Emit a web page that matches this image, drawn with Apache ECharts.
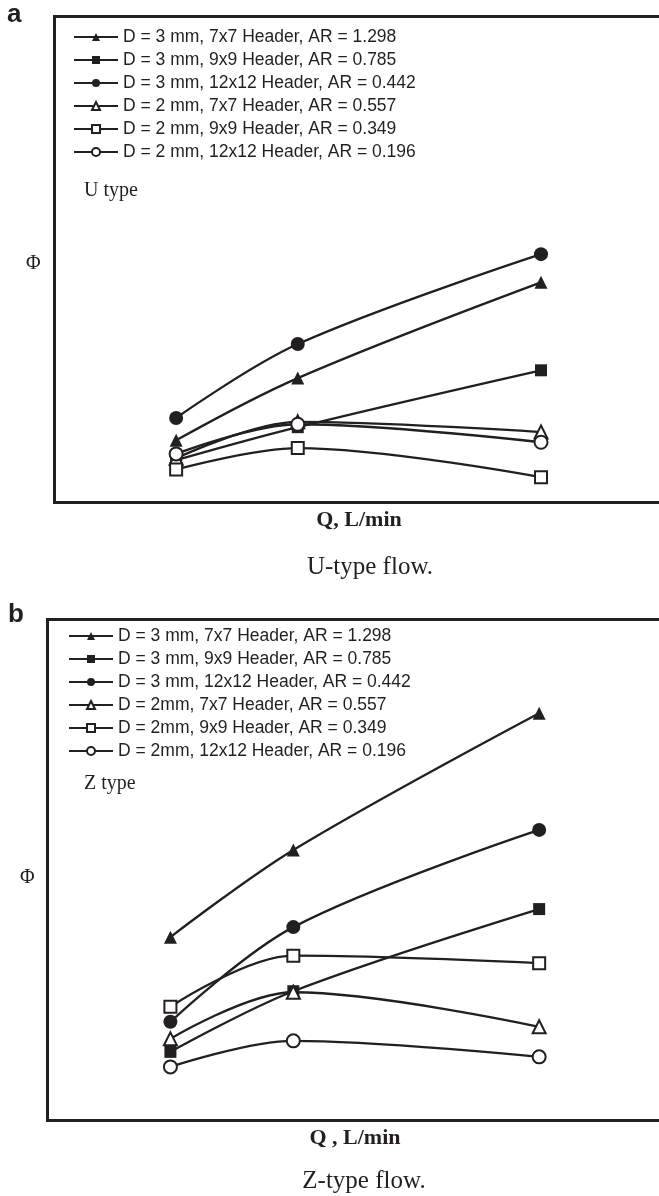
<!DOCTYPE html>
<html><head><meta charset="utf-8">
<script src="https://cdn.jsdelivr.net/npm/echarts@6/dist/echarts.min.js"></script>
<style>html,body{margin:0;padding:0;background:#fff}#c{width:659px;height:1196px}</style>
</head><body><div id="c"></div><script>
// Flow rate Q (L/min) — relative positions on the horizontal axis
const flowRate = [1, 2, 4];

// Panel a: U-type flow
const namesU = [
  'D = 3 mm, 7x7 Header, AR = 1.298',
  'D = 3 mm, 9x9 Header, AR = 0.785',
  'D = 3 mm, 12x12 Header, AR = 0.442',
  'D = 2 mm, 7x7 Header, AR = 0.557',
  'D = 2 mm, 9x9 Header, AR = 0.349',
  'D = 2 mm, 12x12 Header, AR = 0.196'
];
const uD3h7  = [12.8, 25.6, 45.3];
const uD3h9  = [8.7, 15.5, 27.2];
const uD3h12 = [17.4, 32.6, 51.1];
const uD2h7  = [9.1, 16.6, 14.5];
const uD2h9  = [6.8, 11.2, 5.2];
const uD2h12 = [10.0, 16.1, 12.4];

// Panel b: Z-type flow
const namesZ = [
  'D = 3 mm, 7x7 Header, AR = 1.298',
  'D = 3 mm, 9x9 Header, AR = 0.785',
  'D = 3 mm, 12x12 Header, AR = 0.442',
  'D = 2mm, 7x7 Header, AR = 0.557',
  'D = 2mm, 9x9 Header, AR = 0.349',
  'D = 2mm, 12x12 Header, AR = 0.196'
];
const zD3h7  = [36.6, 54.0, 81.3];
const zD3h9  = [13.7, 25.8, 42.2];
const zD3h12 = [19.7, 38.6, 58.0];
const zD2h7  = [16.3, 25.6, 18.7];
const zD2h9  = [22.7, 32.9, 31.4];
const zD2h12 = [10.7, 15.9, 12.7];

const symbols = ['triangle', 'rect', 'circle', 'emptyTriangle', 'emptyRect', 'emptyCircle'];
const symbolSizes = [13, 12, 14, 13, 12, 13];

const INK = '#231f20';
const uSets = [uD3h7, uD3h9, uD3h12, uD2h7, uD2h9, uD2h12];
const zSets = [zD3h7, zD3h9, zD3h12, zD2h7, zD2h9, zD2h12];

function mk(name, vals, k, axis) {
  return {
    type: 'line', name: name, xAxisIndex: axis, yAxisIndex: axis,
    data: flowRate.map((q, i) => [q, vals[i]]),
    smooth: 0.35,
    symbol: symbols[k], symbolSize: symbolSizes[k],
    lineStyle: { color: INK, width: 2.3 },
    itemStyle: { color: INK, borderWidth: 1.8 },
    emphasis: { disabled: true },
    animation: false
  };
}
const series = [];
uSets.forEach((v, k) => series.push(mk(namesU[k], v, k, 0)));
zSets.forEach((v, k) => series.push(mk(namesZ[k], v, k, 1)));

const legendText = { fontFamily: 'Liberation Sans', fontSize: 17.5, color: INK, lineHeight: 18 };
const frameLine = { show: true, onZero: false, lineStyle: { color: INK, width: 3, cap: 'square' } };
const hidden = { axisTick: { show: false }, axisLabel: { show: false }, splitLine: { show: false } };

const chart = echarts.init(document.getElementById('c'), null, { renderer: 'canvas' });
chart.setOption({
  backgroundColor: '#fff',
  animation: false,
  grid: [
    { left: 54.5, top: 16.5, right: 0, height: 486 },
    { left: 47.5, top: 619.5, right: 0, height: 501 }
  ],
  xAxis: [
    Object.assign({ type: 'value', gridIndex: 0, min: 0, max: 4.97, position: 'bottom', axisLine: frameLine }, hidden),
    Object.assign({ type: 'value', gridIndex: 1, min: 0, max: 4.975, position: 'bottom', axisLine: frameLine }, hidden),
    Object.assign({ type: 'value', gridIndex: 0, min: 0, max: 4.97, position: 'top', axisLine: frameLine }, hidden),
    Object.assign({ type: 'value', gridIndex: 1, min: 0, max: 4.975, position: 'top', axisLine: frameLine }, hidden)
  ],
  yAxis: [
    Object.assign({ type: 'value', gridIndex: 0, min: 0, max: 100, position: 'left', axisLine: frameLine }, hidden),
    Object.assign({ type: 'value', gridIndex: 1, min: 0, max: 100, position: 'left', axisLine: frameLine }, hidden)
  ],
  legend: [
    { data: namesU, orient: 'vertical', left: 73, top: 28, itemWidth: 44, itemHeight: 10, itemGap: 5,
      selectedMode: false, textStyle: legendText, padding: 0 },
    { data: namesZ, orient: 'vertical', left: 68, top: 627, itemWidth: 44, itemHeight: 10, itemGap: 5,
      selectedMode: false, textStyle: legendText, padding: 0 }
  ],
  graphic: [
    { type: 'text', left: 7, top: 2, style: { text: 'a', font: 'bold 26px "Liberation Sans"', fill: INK } },
    { type: 'text', left: 8, top: 602, style: { text: 'b', font: 'bold 26px "Liberation Sans"', fill: INK } },
    { type: 'text', left: 84, top: 181, style: { text: 'U type', font: '20px "Liberation Serif"', fill: INK } },
    { type: 'text', left: 84, top: 774, style: { text: 'Z type', font: '20px "Liberation Serif"', fill: INK } },
    { type: 'text', left: 26, top: 254, style: { text: 'Φ', font: '20px "Liberation Serif"', fill: INK } },
    { type: 'text', left: 20, top: 868, style: { text: 'Φ', font: '20px "Liberation Serif"', fill: INK } },
    { type: 'text', x: 359, y: 520, style: { text: 'Q, L/min', font: 'bold 22px "Liberation Serif"', fill: INK, align: 'center', verticalAlign: 'middle' } },
    { type: 'text', x: 355, y: 1138, style: { text: 'Q , L/min', font: 'bold 22px "Liberation Serif"', fill: INK, align: 'center', verticalAlign: 'middle' } },
    { type: 'text', x: 370, y: 567, style: { text: 'U-type flow.', font: '25px "Liberation Serif"', fill: INK, align: 'center', verticalAlign: 'middle' } },
    { type: 'text', x: 364, y: 1181, style: { text: 'Z-type flow.', font: '25px "Liberation Serif"', fill: INK, align: 'center', verticalAlign: 'middle' } }
  ],
  series: series
});
</script></body></html>
